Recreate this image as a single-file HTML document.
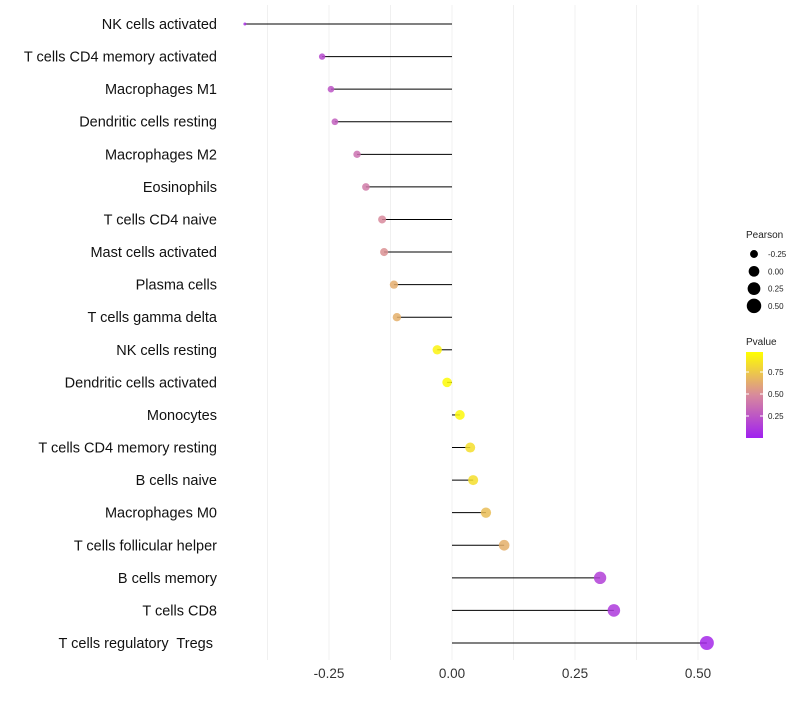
<!DOCTYPE html>
<html><head><meta charset="utf-8"><style>
body{margin:0;background:#fff;}
svg{font-family:"Liberation Sans",sans-serif;}
text{white-space:pre;}
</style></head><body>
<svg id="c" width="800" height="700"></svg>
<script>
const categories=["NK cells activated","T cells CD4 memory activated","Macrophages M1","Dendritic cells resting","Macrophages M2","Eosinophils","T cells CD4 naive","Mast cells activated","Plasma cells","T cells gamma delta","NK cells resting","Dendritic cells activated","Monocytes","T cells CD4 memory resting","B cells naive","Macrophages M0","T cells follicular helper","B cells memory","T cells CD8","T cells regulatory  Tregs "];
const pearson=[-0.421,-0.264,-0.246,-0.238,-0.193,-0.175,-0.142,-0.138,-0.118,-0.112,-0.030,-0.010,0.016,0.037,0.043,0.069,0.106,0.301,0.329,0.518];
const pvalue=[0.08,0.2,0.25,0.3,0.38,0.43,0.5,0.53,0.65,0.66,0.95,0.98,0.97,0.86,0.86,0.72,0.66,0.15,0.12,0.04];
const xTicks=[-0.25,0,0.25,0.5];
const xTickLabels=["-0.25","0.00","0.25","0.50"];
const minorTicks=[-0.375,-0.125,0.125,0.375];
const sizeBreaks=[-0.25,0,0.25,0.5];
const sizeLabels=["-0.25","0.00","0.25","0.50"];
const colorBreaks=[0.25,0.5,0.75];
const colorLabels=["0.25","0.50","0.75"];

const NS="http://www.w3.org/2000/svg",svg=document.getElementById('c');
function el(t,a,p){const e=document.createElementNS(NS,t);for(const k in a)e.setAttribute(k,a[k]);(p||svg).appendChild(e);return e;}
const x=v=>452+v*492;
const y=i=>24+i*(643-24)/19;
const r=v=>Math.sqrt(Math.max(2.25+(v+0.421)*49.7,1));
function lerp(a,b,t){return a.map((c,i)=>Math.round(c+(b[i]-c)*t));}
function col(p){const s=[[160,32,240],[216,138,156],[255,255,0]];let c=p<0.5?lerp(s[0],s[1],p/0.5):lerp(s[1],s[2],(p-0.5)/0.5);return `rgb(${c})`;}

const grid=el('g',{});


minorTicks.concat(xTicks).forEach(v=>{el('line',{x1:x(v),x2:x(v),y1:5,y2:660,stroke:'#f0f0f0','stroke-width':1},grid);});

categories.forEach((c,i)=>{
  const yy=y(i);
  const t=el('text',{x:217,y:yy+5,'text-anchor':'end','font-size':14.5,fill:'#111'});
  t.textContent=c;
  
  
  const l=el('line',{x1:x(0),x2:x(pearson[i]),y1:yy,y2:yy,stroke:'#000','stroke-width':1});
  
  
  const d=el('circle',{cx:x(pearson[i]),cy:yy,r:r(pearson[i]),fill:col(pvalue[i]),'fill-opacity':0.85});
  
  
});
xTicks.forEach((v,i)=>{
  const t=el('text',{x:x(v),y:678,'text-anchor':'middle','font-size':13.5,fill:'#333'});
  t.textContent=xTickLabels[i];
  
  
});
let t=el('text',{x:746,y:238,'font-size':10,fill:'#222'});t.textContent='Pearson';


sizeBreaks.forEach((v,i)=>{
  const cy=254+i*17.3;
  const c=el('circle',{cx:754,cy:cy,r:r(v)*0.9+1,fill:'#000'});
  
  
  const tt=el('text',{x:768,y:cy+3,'font-size':8,fill:'#222'});tt.textContent=sizeLabels[i];
  
  
});
t=el('text',{x:746,y:345,'font-size':10,fill:'#222'});t.textContent='Pvalue';


const defs=el('defs',{});
const lg=el('linearGradient',{id:'g',x1:0,y1:1,x2:0,y2:0},defs);
[0,0.5,1].forEach(o=>el('stop',{offset:o,'stop-color':col(o)},lg));
const bar=el('rect',{x:746,y:352,width:17,height:86,fill:'url(#g)'});


colorBreaks.forEach((v,i)=>{
  const yy=438-v*88;
  el('line',{x1:746,x2:749,y1:yy,y2:yy,stroke:'#fff'});
  el('line',{x1:760,x2:763,y1:yy,y2:yy,stroke:'#fff'});
  const tt=el('text',{x:768,y:yy+3,'font-size':8,fill:'#222'});tt.textContent=colorLabels[i];
  
  
});
</script>
</body></html>
